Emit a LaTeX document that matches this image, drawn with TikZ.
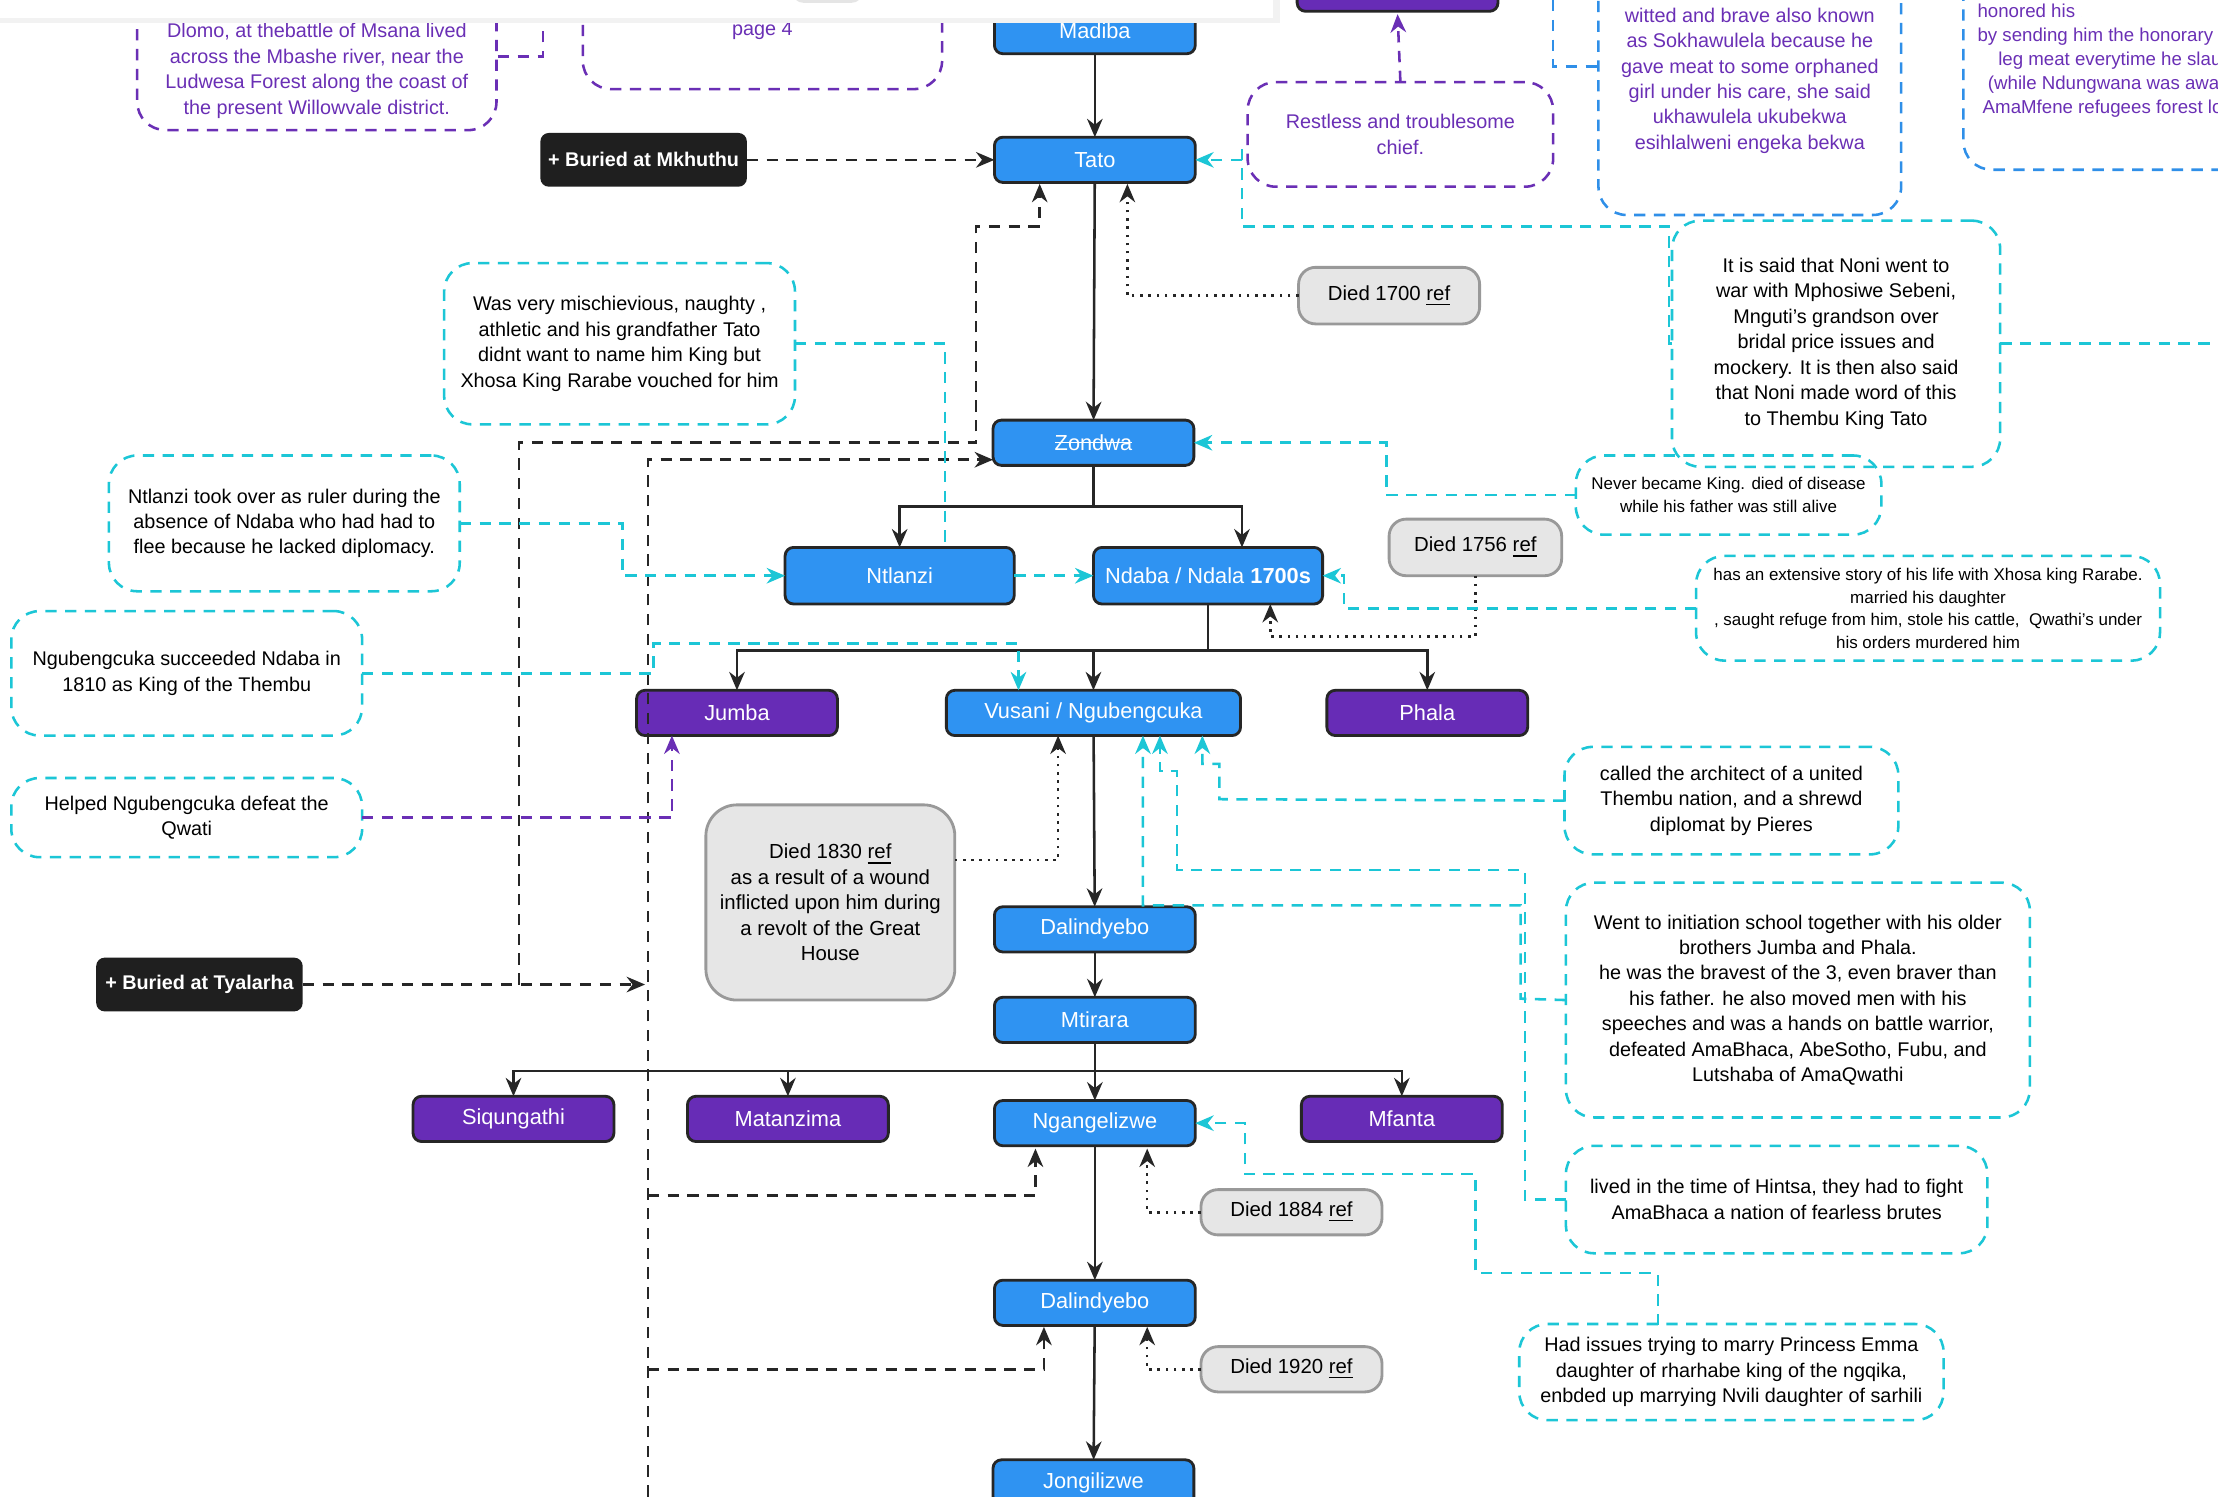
\documentclass[tikz,border=0pt]{standalone}
\usepackage{fontspec}
\setmainfont{Liberation Sans}
\usetikzlibrary{arrows.meta}
\definecolor{nblue}{HTML}{2F93F2}
\definecolor{npurp}{HTML}{672CB6}
\definecolor{ncyan}{HTML}{1CC6D6}
\definecolor{tpurp}{HTML}{6A2FB5}
\definecolor{lblue}{HTML}{2F8FE8}
\definecolor{ngrey}{HTML}{E6E6E6}
\begin{document}
\begin{tikzpicture}[x=0.5pt,y=-0.5pt,
 every node/.style={inner sep=0pt,outer sep=0pt},
 main/.style={draw=black!85,line width=1pt,rounded corners=3pt,fill=nblue,text=white,font=\fontsize{7.7}{9}\selectfont,minimum width=71pt,minimum height=16pt},
 pur/.style={main,fill=npurp},
 grey/.style={draw=black!40,line width=1pt,fill=ngrey,rounded corners=6pt,font=\fontsize{7.2}{9}\selectfont,align=center},
 blk/.style={fill=black!88,text=white,rounded corners=3pt,font=\bfseries\fontsize{7}{9}\selectfont,minimum width=73pt,minimum height=19pt},
 note/.style={draw=ncyan,dashed,dash pattern=on 4pt off 3pt,line width=0.9pt,rounded corners=10pt,align=center,font=\fontsize{7}{9}\selectfont},
 pnote/.style={note,draw=tpurp,text=tpurp},
 bnote/.style={note,draw=lblue,text=tpurp},
 ar/.style={-{Stealth[length=6.5pt,width=5.5pt]},line width=0.9pt,black!85},
 dar/.style={ar,dash pattern=on 4pt off 3pt},
 dot/.style={ar,dotted},
 car/.style={-{Stealth[length=6.5pt,width=5.5pt]},draw=ncyan,line width=0.9pt,dash pattern=on 4pt off 3pt},
 cl/.style={draw=ncyan,line width=0.9pt,dash pattern=on 4pt off 3pt},
 par/.style={car,draw=tpurp},
 pl/.style={cl,draw=tpurp},
 bl/.style={cl,draw=lblue}]
\useasboundingbox (0,0) rectangle (1568,1058);
\fill[white] (0,0) rectangle (1568,1058);
\begin{scope}
\clip (0,0) rectangle (1568,1058);
% notes
\node[pnote,minimum width=127pt,minimum height=70pt] (dlomo) at (224,22) {};
\node[tpurp,font=\fontsize{7}{9}\selectfont,align=center] (dlomot) at (224,50) {Dlomo, at thebattle of Msana lived\\across the Mbashe river, near the\\Ludwesa Forest along the coast of\\the present Willowvale district.};
\node[pnote,minimum width=127pt,minimum height=50pt] (pg) at (539,13) {};
\node[tpurp,font=\fontsize{7}{9}\selectfont] (pgt) at (539,22) {page 4};
\node[lblue,font=\fontsize{7}{9}\selectfont] (lnk) at (640,6) {\underline{52450}};
\draw[pl] (352,40) -- (384,40) -- (384,0);
\node[pnote,minimum width=108pt,minimum height=37pt] (rest) at (990,95) {Restless and troublesome\\chief.};
\node[pur] (top) at (988,-8) {};
\draw[par] (rest.north) -- (988,10);
\node[bnote,minimum width=107pt,minimum height=95pt] (sokh) at (1237,57) {};
\node[tpurp,font=\fontsize{7}{9}\selectfont,align=center] (sokht) at (1237,57) {witted and brave also known\\as Sokhawulela because he\\gave meat to some orphaned\\girl under his care, she said\\ukhawulela ukubekwa\\esihlalweni engeka bekwa};
\draw[bl] (1098,0) -- (1098,47) -- (1130,47);
\node[bnote,minimum width=120pt,minimum height=70pt,anchor=north west] (twin) at (1388,-20) {};
\node[tpurp,font=\fontsize{6.6}{8.5}\selectfont,align=left,anchor=north west] (twint) at (1398,3) {honored his twin\\by sending him the honorary ri\\\ \ \ \ leg meat everytime he slaug\\\ \ (while Ndungwana was away\\\ AmaMfene refugees forest lo};
\node[note,minimum width=116pt,minimum height=87pt] (noni) at (1298,243) {It is said that Noni went to\\war with Mphosiwe Sebeni,\\Mnguti's grandson over\\bridal price issues and\\mockery. It is then also said\\that Noni made word of this\\to Thembu King Tato};
\draw[cl] (noni.east) -- (1568,243);
\node[note,minimum width=108pt,minimum height=28pt,font=\fontsize{6}{8}\selectfont] (never) at (1222,350) {Never became King. died of disease\\while his father was still alive};
\node[note,minimum width=124pt,minimum height=57pt] (misch) at (438,243) {Was very mischievious, naughty ,\\athletic and his grandfather Tato\\didnt want to name him King but\\Xhosa King Rarabe vouched for him};
\node[note,minimum width=124pt,minimum height=48pt] (ntl) at (201,370) {Ntlanzi took over as ruler during the\\absence of Ndaba who had had to\\flee because he lacked diplomacy.};
\node[note,minimum width=164pt,minimum height=37pt,font=\fontsize{6}{8}\selectfont] (ext) at (1363,430) {has an extensive story of his life with Xhosa king Rarabe.\\married his daughter\\, saught refuge from him, stole his cattle,\ \ Qwathi's under\\his orders murdered him};
\node[note,minimum width=124pt,minimum height=44pt] (ngub) at (132,476) {Ngubengcuka succeeded Ndaba in\\1810 as King of the Thembu};
\node[note,minimum width=124pt,minimum height=28pt] (help) at (132,578) {Helped Ngubengcuka defeat the\\Qwati};
\node[note,minimum width=118pt,minimum height=38pt] (arch) at (1224,566) {called the architect of a united\\Thembu nation, and a shrewd\\diplomat by Pieres};
\node[note,minimum width=164pt,minimum height=83pt] (init) at (1271,707) {Went to initiation school together with his older\\brothers Jumba and Phala.\\he was the bravest of the 3, even braver than\\his father. he also moved men with his\\speeches and was a hands on battle warrior,\\defeated AmaBhaca, AbeSotho, Fubu, and\\Lutshaba of AmaQwathi};
\node[note,minimum width=149pt,minimum height=38pt] (hint) at (1256,848) {lived in the time of Hintsa, they had to fight\\AmaBhaca a nation of fearless brutes};
\node[note,minimum width=150pt,minimum height=34pt] (marry) at (1224,970) {Had issues trying to marry Princess Emma\\daughter of rharhabe king of the ngqika,\\enbded up marrying Nvili daughter of sarhili};
% main nodes
\node[main] (madiba) at (774,22) {Madiba};
\node[main] (tato) at (774,113) {Tato};
\node[main] (zondwa) at (773,313) {Zondwa};
\draw[white,line width=0.5pt] (746,313) -- (800,313);
\node[main,minimum width=81pt,minimum height=20pt] (ntlanzi) at (636,407) {Ntlanzi};
\node[main,minimum width=81pt,minimum height=20pt] (ndaba) at (854,407) {Ndaba / Ndala \textbf{1700s}};
\node[pur] (jumba) at (521,504) {Jumba};
\node[main,minimum width=104pt] (vusani) at (773,504) {Vusani / Ngubengcuka};
\node[pur] (phala) at (1009,504) {Phala};
\node[main] (dal1) at (774,657) {Dalindyebo};
\node[main] (mtir) at (774,721) {Mtirara};
\node[pur] (siq) at (363,791) {Siqungathi};
\node[pur] (mat) at (557,791) {Matanzima};
\node[main] (ngan) at (774,794) {Ngangelizwe};
\node[pur] (mfa) at (991,791) {Mfanta};
\node[main] (dal2) at (774,921) {Dalindyebo};
\node[main] (jong) at (773,1048) {Jongilizwe};
\node[grey,minimum width=64pt,minimum height=20pt] (d1700) at (982,209) {Died 1700 \underline{ref}};
\node[grey,minimum width=61pt,minimum height=20pt] (d1756) at (1043,387) {Died 1756 \underline{ref}};
\node[grey,minimum width=88pt,minimum height=69pt,rounded corners=11pt] (d1830) at (587,638) {Died 1830 \underline{ref}\\as a result of a wound\\inflicted upon him during\\a revolt of the Great\\House};
\node[grey,minimum width=64pt,minimum height=16pt] (d1884) at (913,857) {Died 1884 \underline{ref}};
\node[grey,minimum width=64pt,minimum height=16pt] (d1920) at (913,968) {Died 1920 \underline{ref}};
\node[blk] (mkh) at (455,113) {+ Buried at Mkhuthu};
\node[blk] (tya) at (141,696) {+ Buried at Tyalarha};
% solid
\draw[ar] (madiba) -- (tato);
\draw[ar] (tato) -- (zondwa);
\draw[ar] (zondwa.south) -- (773,358) -| (ntlanzi.north);
\draw[ar] (773,358) -| (878,387);
\draw[ar] (ndaba.south) -- (854,460) -| (jumba.north);
\draw[ar] (854,460) -| (vusani.north);
\draw[ar] (854,460) -| (phala.north);
\draw[ar] (vusani) -- (dal1);
\draw[ar] (dal1) -- (mtir);
\draw[ar] (mtir.south) -- (774,757) -| (siq.north);
\draw[ar] (774,757) -| (mat.north);
\draw[ar] (774,757) -- (ngan.north);
\draw[ar] (774,757) -| (mfa.north);
\draw[ar] (ngan) -- (dal2);
\draw[ar] (dal2) -- (jong);
% dotted
\draw[dot] (d1700.west) -| (797,130);
\draw[dot] (d1756.south) |- (898,450) -- (898,427);
\draw[dot] (d1830.east |- 0,608) -| (748,520);
\draw[dot] (d1884.west) -| (811,812);
\draw[dot] (d1920.west) -| (811,938);
% black dashed
\draw[dar] (mkh.east) -- (tato.west);
\draw[dar] (tya.east) -- (456,696);
\draw[dar] (367,696) -- (367,313) -- (690,313) -- (690,160) -- (735,160) -- (735,130);
\draw[dar] (458,1058) -- (458,325) -- (702,325);
\draw[dar] (458,845) -- (732,845) -- (732,812);
\draw[dar] (458,968) -- (738,968) -- (738,938);
% cyan
\draw[car] (noni.west) -- (1180,243) -- (1180,160) -- (878,160) -- (878,113) -- (tato.east);
\draw[cl] (878,113) -- (878,100);
\draw[car] (never.west) -- (980,350) -- (980,313) -- (zondwa.east);
\draw[cl] (misch.east) -- (668,243) -- (668,387);
\draw[car] (ntl.east) -- (440,370) -- (440,407) -- (ntlanzi.west);
\draw[car] (ntlanzi.east) -- (ndaba.west);
\draw[car] (ext.west) -- (950,430) -- (950,407) -- (ndaba.east);
\draw[car] (ngub.east) -- (462,476) -- (462,455) -- (720,455) -- (720,488);
\draw[car] (arch.west) -- (862,565) -- (862,540) -- (850,540) -- (850,520);
\draw[car] (init.west) -- (1075,706) -- (1075,640) -- (808,640) -- (808,520);
\draw[car] (hint.west) -- (1078,848) -- (1078,615) -- (832,615) -- (832,545) -- (820,545) -- (820,520);
\draw[car] (1172,937) -- (1172,900) -- (1043,900) -- (1043,830) -- (880,830) -- (880,794) -- (ngan.east);
\draw[par] (help.east) -- (475,578) -- (475,520);
% overlays
\fill[black!5] (0,0) rectangle (905,16);
\fill[white] (0,0) rectangle (900,13);
\fill[black!10,rounded corners=4pt] (560,-8) rectangle (610,2);
\fill[white,rounded corners=6pt] (1470,-10) rectangle (1580,18);
\end{scope}
\end{tikzpicture}
\end{document}
